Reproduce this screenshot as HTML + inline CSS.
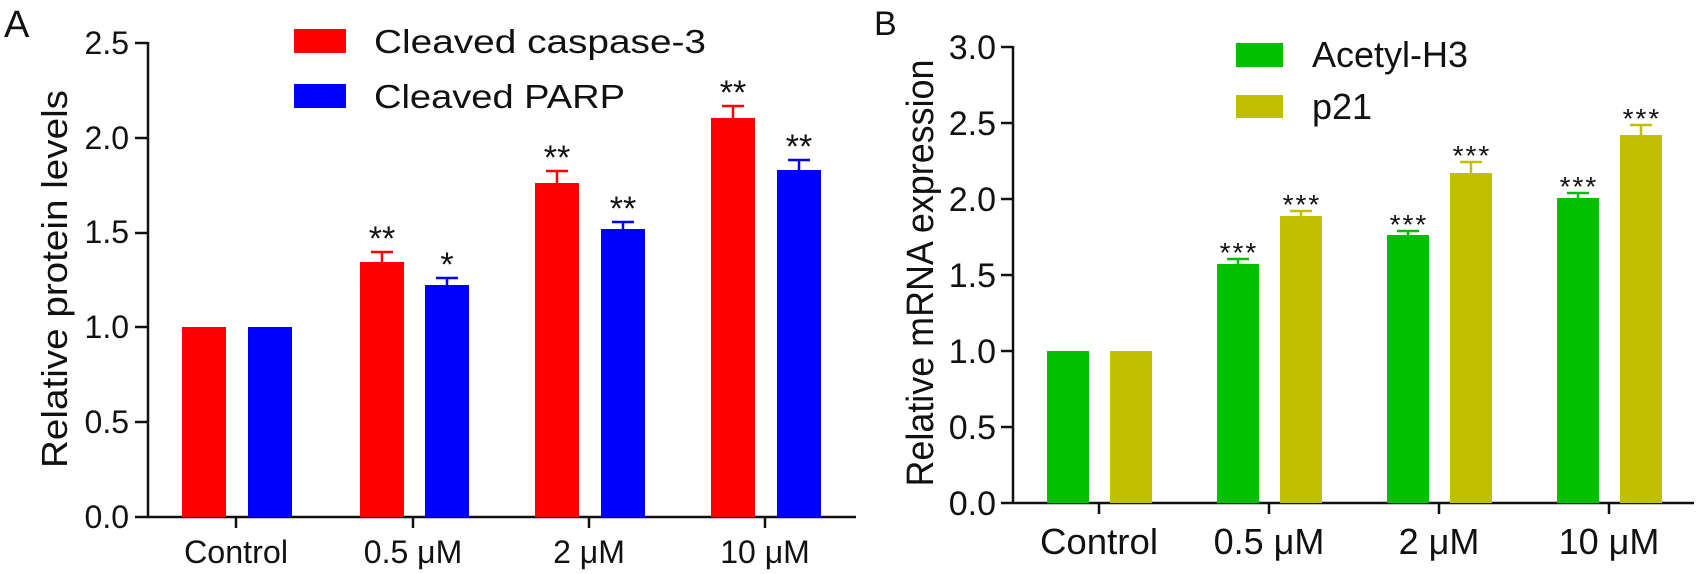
<!DOCTYPE html>
<html><head><meta charset="utf-8"><style>
html,body{margin:0;padding:0;background:#fff;}
svg{display:block;}
text{font-family:"Liberation Sans",Arial,sans-serif;fill:#111;}
</style></head><body>
<svg width="1699" height="574" viewBox="0 0 1699 574" xmlns="http://www.w3.org/2000/svg">
<!-- Panel A -->
<text x="4" y="37" font-size="38">A</text>
<text transform="translate(67,279) rotate(-90)" font-size="36" text-anchor="middle" textLength="378" lengthAdjust="spacingAndGlyphs">Relative protein levels</text>
<g font-size="32" text-anchor="end">
<text x="129" y="528">0.0</text>
<text x="129" y="433">0.5</text>
<text x="129" y="338">1.0</text>
<text x="129" y="243">1.5</text>
<text x="129" y="149">2.0</text>
<text x="129" y="54">2.5</text>
</g>
<g stroke="#111" stroke-width="2.5">
<line x1="148" y1="42" x2="148" y2="518"/>
<line x1="135" y1="517" x2="856" y2="517"/>
<line x1="135" y1="43" x2="148" y2="43"/>
<line x1="135" y1="138" x2="148" y2="138"/>
<line x1="135" y1="233" x2="148" y2="233"/>
<line x1="135" y1="327" x2="148" y2="327"/>
<line x1="135" y1="422" x2="148" y2="422"/>
<line x1="236" y1="517" x2="236" y2="528"/>
<line x1="413" y1="517" x2="413" y2="528"/>
<line x1="589" y1="517" x2="589" y2="528"/>
<line x1="765" y1="517" x2="765" y2="528"/>
</g>
<g fill="#ff0000">
<rect x="182" y="327" width="44" height="190"/>
<rect x="360" y="262" width="44" height="255"/>
<rect x="535" y="183" width="44" height="334"/>
<rect x="711" y="118" width="44" height="399"/>
</g>
<g fill="#0000ff">
<rect x="248" y="327" width="44" height="190"/>
<rect x="425" y="285" width="44" height="232"/>
<rect x="601" y="229" width="44" height="288"/>
<rect x="777" y="170" width="44" height="347"/>
</g>
<g stroke="#ff0000" stroke-width="2.5">
<path d="M382 262V252M371 252H393"/>
<path d="M557 183V171M546 171H568"/>
<path d="M733 118V106M722 106H744"/>
</g>
<g stroke="#0000ff" stroke-width="2.5">
<path d="M447 285V278M436 278H458"/>
<path d="M623 229V222M612 222H634"/>
<path d="M799 170V160M788 160H810"/>
</g>
<g font-size="34" text-anchor="middle">
<text x="382" y="250">**</text>
<text x="447" y="276">*</text>
<text x="557" y="169">**</text>
<text x="623" y="220">**</text>
<text x="733" y="104">**</text>
<text x="799" y="158">**</text>
</g>
<g font-size="32" text-anchor="middle">
<text x="236" y="563" textLength="104" lengthAdjust="spacingAndGlyphs">Control</text>
<text x="413" y="563">0.5 μM</text>
<text x="589" y="563">2 μM</text>
<text x="765" y="563">10 μM</text>
</g>
<rect x="294" y="29" width="52" height="24" fill="#ff0000"/>
<rect x="294" y="84" width="52" height="24" fill="#0000ff"/>
<text x="374" y="53" font-size="33" textLength="332" lengthAdjust="spacingAndGlyphs">Cleaved caspase-3</text>
<text x="374" y="108" font-size="33" textLength="251" lengthAdjust="spacingAndGlyphs">Cleaved PARP</text>

<!-- Panel B -->
<text x="874" y="35" font-size="34">B</text>
<text transform="translate(933,273) rotate(-90)" font-size="38" text-anchor="middle" textLength="427" lengthAdjust="spacingAndGlyphs">Relative mRNA expression</text>
<g font-size="34" text-anchor="end">
<text x="996" y="515">0.0</text>
<text x="996" y="439">0.5</text>
<text x="996" y="363">1.0</text>
<text x="996" y="287">1.5</text>
<text x="996" y="211">2.0</text>
<text x="996" y="135">2.5</text>
<text x="996" y="59">3.0</text>
</g>
<g stroke="#111" stroke-width="2.5">
<line x1="1013" y1="46" x2="1013" y2="504"/>
<line x1="1001" y1="503" x2="1694" y2="503"/>
<line x1="1001" y1="47" x2="1013" y2="47"/>
<line x1="1001" y1="123" x2="1013" y2="123"/>
<line x1="1001" y1="199" x2="1013" y2="199"/>
<line x1="1001" y1="275" x2="1013" y2="275"/>
<line x1="1001" y1="351" x2="1013" y2="351"/>
<line x1="1001" y1="427" x2="1013" y2="427"/>
<line x1="1099" y1="503" x2="1099" y2="514"/>
<line x1="1269" y1="503" x2="1269" y2="514"/>
<line x1="1439" y1="503" x2="1439" y2="514"/>
<line x1="1609" y1="503" x2="1609" y2="514"/>
</g>
<g fill="#00c000">
<rect x="1047" y="351" width="42" height="152"/>
<rect x="1217" y="264" width="42" height="239"/>
<rect x="1387" y="235" width="42" height="268"/>
<rect x="1557" y="198" width="42" height="305"/>
</g>
<g fill="#c0c000">
<rect x="1110" y="351" width="42" height="152"/>
<rect x="1280" y="216" width="42" height="287"/>
<rect x="1450" y="173" width="42" height="330"/>
<rect x="1620" y="135" width="42" height="368"/>
</g>
<g stroke="#00c000" stroke-width="2.5">
<path d="M1238 264V259M1227 259H1249"/>
<path d="M1408 235V231M1397 231H1419"/>
<path d="M1578 198V193M1567 193H1589"/>
</g>
<g stroke="#c0c000" stroke-width="2.5">
<path d="M1301 216V211M1290 211H1312"/>
<path d="M1471 173V162M1460 162H1482"/>
<path d="M1641 135V125M1630 125H1652"/>
</g>
<g font-size="28" text-anchor="middle" letter-spacing="2">
<text x="1239" y="262">***</text>
<text x="1302" y="214">***</text>
<text x="1409" y="234">***</text>
<text x="1472" y="165">***</text>
<text x="1579" y="196">***</text>
<text x="1642" y="128">***</text>
</g>
<g font-size="36" text-anchor="middle">
<text x="1099" y="554" textLength="118" lengthAdjust="spacingAndGlyphs">Control</text>
<text x="1269" y="554">0.5 μM</text>
<text x="1439" y="554">2 μM</text>
<text x="1609" y="554">10 μM</text>
</g>
<rect x="1236" y="43" width="47" height="24" fill="#00c000"/>
<rect x="1236" y="95" width="47" height="23" fill="#c0c000"/>
<text x="1312" y="67" font-size="36">Acetyl-H3</text>
<text x="1312" y="119" font-size="36">p21</text>
</svg>
</body></html>
